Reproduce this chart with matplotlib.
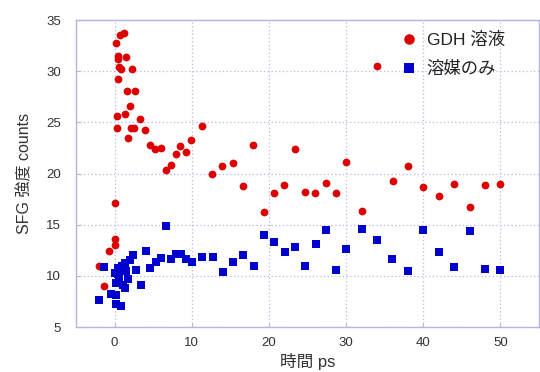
import matplotlib
matplotlib.use("Agg")
import matplotlib.pyplot as plt

plt.rcParams['font.family'] = ['Liberation Sans', 'Noto Sans CJK JP', 'DejaVu Sans']

# GDH solution (red circles)
gdh_x = [1.19, 0.71, 0.2, 0.5, 0.4, 1.49, 0.54, 0.89, 2.3, 0.4, 1.6, 2.7, 1.96, 0.28, 1.36, 3.3,
         0.3, 2.15, 2.53, 3.95, 1.8, 4.6, 5.28, 5.97, 11.29, 9.87, 8.54, 7.94, 9.27, 7.3, 6.6, 12.6,
         13.97, 15.3, 16.6, 18.0, 19.4, 20.7, 22.0, 23.4, 24.7, 26.0, 27.4, 28.7, 30.0, 32.0, 34.0,
         36.1, 38.0, 40.0, 42.0, 44.0, 46.0, 48.0, 50.0,
         0.09, 0.1, 0.03, -0.66, -2.04, -1.35]
gdh_y = [33.76, 33.57, 32.8, 31.5, 31.2, 31.35, 30.4, 30.2, 30.2, 29.2, 28.1, 28.1, 26.6, 25.6, 25.8, 25.3,
         24.4, 24.47, 24.4, 24.27, 23.5, 22.74, 22.35, 22.45, 24.6, 23.3, 22.64, 21.93, 22.1, 20.8, 20.33, 19.94,
         20.7, 21.0, 18.8, 22.8, 16.2, 18.1, 18.9, 22.4, 18.2, 18.1, 19.1, 18.1, 21.1, 16.3, 30.5,
         19.3, 20.7, 18.7, 17.8, 19.0, 16.7, 18.9, 19.0,
         17.16, 13.64, 13.0, 12.47, 10.96, 9.0]

# Solvent only (blue squares)
sol_x = [-1.35, -2.0, -0.5, 0.24, 0.24, 0.8, 0.24, 1.1, 0.54, 1.75, 0.45, 1.5, 0.45, 0.9, 1.4, 1.96,
         2.4, 2.8, 3.4, 0.0, 1.3, 4.03, 4.6, 5.4, 6.0, 6.65, 7.3, 7.9, 8.6, 9.3, 10.0, 11.3, 12.7,
         14.0, 15.4, 16.7, 18.1, 19.4, 20.7, 22.1, 23.4, 24.7, 26.1, 27.4, 28.7, 30.0, 32.1, 34.05,
         36.0, 38.0, 40.0, 42.0, 44.0, 46.0, 48.0, 50.0]
sol_y = [10.9, 7.6, 8.2, 8.1, 7.2, 7.1, 9.3, 9.07, 9.7, 9.7, 10.2, 10.5, 10.8, 11.0, 11.3, 11.5,
         12.07, 10.6, 9.1, 10.3, 8.8, 12.47, 10.8, 11.4, 11.7, 14.85, 11.6, 12.1, 12.1, 11.6, 11.4, 11.8, 11.8,
         10.4, 11.4, 12.0, 11.0, 14.0, 13.3, 12.3, 12.8, 10.95, 13.1, 14.5, 10.6, 12.6, 14.6, 13.5,
         11.6, 10.5, 14.5, 12.3, 10.9, 14.35, 10.7, 10.6]

labels = ['GDH 溶液', '溶媒のみ']
xticks = [0, 10, 20, 30, 40, 50]
yticks = [5, 10, 15, 20, 25, 30, 35]

W, H = 540, 372
fig = plt.figure(figsize=(W / 100, H / 100), dpi=100)
ax = fig.add_axes([76 / W, 1 - 327 / H, (539 - 76) / W, 307 / H])

ax.plot(gdh_x, gdh_y, 'o', color='#dd0000', markersize=5.6, markeredgewidth=0, label=labels[0], zorder=3)
ax.plot(sol_x, sol_y, 's', color='#0000cc', markersize=5.2, markeredgewidth=0, label=labels[1], zorder=3)

ax.set_xlim(-5, 55)
ax.set_ylim(5, 35)
ax.set_xticks(xticks)
ax.set_yticks(yticks)
ax.grid(True, linestyle=(0, (1, 2)), color='#b8b8ec', linewidth=0.9)
ax.set_axisbelow(True)
for s in ax.spines.values():
    s.set_color('#b4b4e6')
    s.set_linewidth(1.0)
ax.tick_params(direction='in', length=3, color='#b4b4e6', labelsize=9.5, labelcolor='#333333')
ax.tick_params(axis='y', pad=11)
ax.tick_params(axis='x', pad=7)

ax.set_xlabel('時間 ps', fontsize=12, color='#333333', labelpad=3)
ax.set_ylabel('SFG 強度 counts', fontsize=11.5, color='#333333', labelpad=10)

leg = ax.legend(loc='upper left', bbox_to_anchor=(0.69, 0.985), frameon=False, fontsize=12.5,
                markerscale=1.35, handlelength=0.8, handletextpad=0.6, labelspacing=0.75,
                borderaxespad=0.0)
for t in leg.get_texts():
    t.set_color('#222222')

fig.savefig('out.png', dpi=100)
